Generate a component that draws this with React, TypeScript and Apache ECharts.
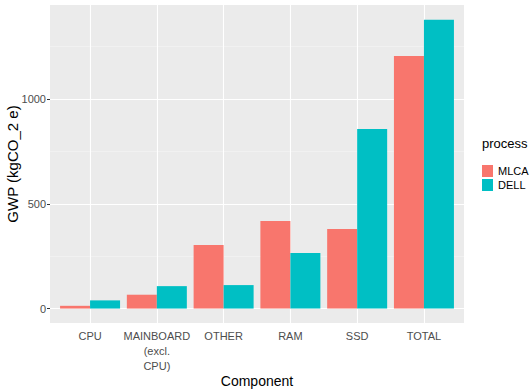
import React, { useEffect, useRef } from "react";
import * as echarts from "echarts";

const categories = ["CPU", "MAINBOARD\n(excl.\nCPU)", "OTHER", "RAM", "SSD", "TOTAL"];
const mlcaValues = [13, 66, 303, 418, 380, 1206];
const dellValues = [39, 107, 112, 265, 857, 1379];
const yTicks = [0, 500, 1000];
const yMinor = [250, 750, 1250];
const xPositions = [1, 2, 3, 4, 5, 6];

const FONT = "'Liberation Sans Narrow', 'Liberation Sans', Arial, sans-serif";

export default function App() {
  const ref = useRef<HTMLDivElement>(null);
  useEffect(() => {
    if (!ref.current) return;
    const chart = echarts.init(ref.current, undefined, { renderer: "svg" });
    chart.setOption({
      animation: false,
      backgroundColor: "#ffffff",
      textStyle: { fontFamily: FONT },
      grid: {
        left: 50,
        top: 5,
        width: 414,
        height: 318,
        show: true,
        backgroundColor: "#EBEBEB",
        borderWidth: 0,
        containLabel: false,
        outerBoundsMode: "none",
      },
      xAxis: {
        type: "value",
        min: 0.4,
        max: 6.6,
        name: "Component",
        nameLocation: "middle",
        nameGap: 51,
        nameMoveOverlap: false,
        nameTextStyle: { fontSize: 14, color: "#000", fontFamily: FONT },
        axisLine: { show: false },
        splitLine: { show: false },
        axisTick: { show: true, customValues: xPositions, length: 3, lineStyle: { color: "#333" } },
        axisLabel: {
          customValues: xPositions,
          formatter: (v: number) => categories[Math.round(v) - 1] ?? "",
          color: "#4D4D4D",
          fontSize: 11,
          lineHeight: 15,
          margin: 5,
          fontFamily: FONT,
        },
      },
      yAxis: {
        type: "value",
        min: -69,
        max: 1449,
        name: "GWP (kgCO_2 e)",
        nameLocation: "middle",
        nameGap: 30,
        nameMoveOverlap: false,
        nameTextStyle: { fontSize: 15, color: "#000", fontFamily: FONT },
        axisLine: { show: false },
        splitLine: { show: false },
        axisTick: { show: true, customValues: yTicks, length: 3, lineStyle: { color: "#333" } },
        axisLabel: {
          customValues: yTicks,
          formatter: (v: number) => String(v),
          color: "#4D4D4D",
          fontSize: 11,
          margin: 4,
          fontFamily: FONT,
        },
      },
      legend: {
        orient: "vertical",
        left: 482,
        top: 165,
        padding: 0,
        itemWidth: 11,
        itemHeight: 12,
        itemGap: 2,
        icon: "rect",
        textStyle: { fontSize: 11, color: "#000", fontFamily: FONT },
        data: ["MLCA", "DELL"],
      },
      graphic: [
        {
          type: "text",
          left: 482,
          top: 137,
          style: { text: "process", fontSize: 13, fill: "#000", fontFamily: FONT },
        },
      ],
      series: [
        {
          type: "scatter",
          data: [[1, 0]],
          symbolSize: 0,
          silent: true,
          z: 1,
          markLine: {
            silent: true,
            symbol: "none",
            z: 1,
            label: { show: false },
            animation: false,
            data: [
              ...yTicks.map((v) => ({ yAxis: v, lineStyle: { color: "#FFFFFF", width: 1.1, type: "solid" } })),
              ...yMinor.map((v) => ({ yAxis: v, lineStyle: { color: "#F5F5F5", width: 0.6, type: "solid" } })),
              ...xPositions.map((v) => ({ xAxis: v, lineStyle: { color: "#FFFFFF", width: 1.1, type: "solid" } })),
            ],
          },
        },
        {
          name: "MLCA",
          type: "bar",
          z: 2,
          barWidth: 30,
          barGap: "0%",
          itemStyle: { color: "#F8766D" },
          data: mlcaValues.map((v, i) => [xPositions[i], v]),
        },
        {
          name: "DELL",
          type: "bar",
          z: 2,
          barWidth: 30,
          barGap: "0%",
          itemStyle: { color: "#00BFC4" },
          data: dellValues.map((v, i) => [xPositions[i], v]),
        },
      ],
    });
    return () => chart.dispose();
  }, []);
  return (
    <div
      ref={ref}
      style={{ position: "fixed", left: 0, top: 0, width: 530, height: 392 }}
    />
  );
}
